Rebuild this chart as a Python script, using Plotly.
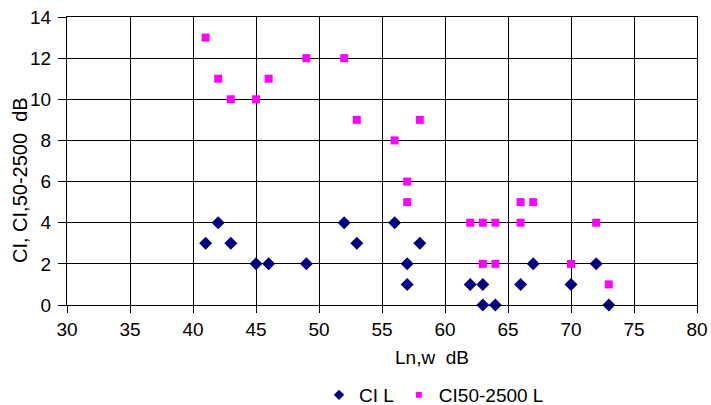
import plotly.graph_objects as go

# Data
ci_x = [41, 42, 43, 45, 46, 49, 52, 53, 56, 57, 57, 58, 62, 63, 63, 64, 66, 67, 70, 72, 73]
ci_l = [3, 4, 3, 2, 2, 2, 4, 3, 4, 2, 1, 3, 1, 1, 0, 0, 1, 2, 1, 2, 0]
ci50_x = [41, 42, 43, 45, 46, 49, 52, 53, 56, 57, 57, 58, 62, 63, 63, 64, 64, 66, 66, 67, 70, 72, 73]
ci50_2500_l = [13, 11, 10, 10, 11, 12, 12, 9, 8, 6, 5, 9, 4, 4, 2, 4, 2, 5, 4, 5, 2, 4, 1]

x_ticks = [30, 35, 40, 45, 50, 55, 60, 65, 70, 75, 80]
y_ticks = [0, 2, 4, 6, 8, 10, 12, 14]

FONT = "Liberation Sans, Arial, sans-serif"
BLUE = "#000080"
MAGENTA = "#FF00FF"

fig = go.Figure()
fig.add_trace(go.Scatter(
    x=ci_x, y=ci_l, mode="markers", name="CI L", showlegend=False,
    marker=dict(symbol="diamond", size=10, color=BLUE, line=dict(width=0)),
    cliponaxis=False,
))
fig.add_trace(go.Scatter(
    x=ci50_x, y=ci50_2500_l, mode="markers", name="CI50-2500 L", showlegend=False,
    marker=dict(symbol="square", size=8, color=MAGENTA, line=dict(width=0)),
    cliponaxis=False,
))
# legend entries (smaller keys as in the reference)
fig.add_trace(go.Scatter(
    x=[None], y=[None], mode="markers", name="CI L",
    marker=dict(symbol="diamond", size=8, color=BLUE, line=dict(width=0)),
))
fig.add_trace(go.Scatter(
    x=[None], y=[None], mode="markers", name="CI50-2500 L",
    marker=dict(symbol="square", size=6, color=MAGENTA, line=dict(width=0)),
))

axis_common = dict(
    showgrid=True, gridcolor="black", gridwidth=1,
    showline=True, linecolor="black", linewidth=1, mirror=True,
    ticks="outside", tickcolor="black", tickwidth=1,
    zeroline=False,
    tickfont=dict(family=FONT, size=19, color="black"),
)

fig.update_xaxes(range=[30, 80], tickvals=x_ticks, ticktext=[str(v) for v in x_ticks],
                 ticklen=7, **axis_common)
fig.update_yaxes(range=[0, 14], tickvals=y_ticks, ticktext=[str(v) for v in y_ticks],
                 ticklen=8, ticklabelstandoff=3, **axis_common)

fig.add_annotation(
    text="Ln,w  dB", xref="paper", yref="paper", x=0.579, y=-0.184,
    xanchor="center", yanchor="middle", showarrow=False,
    font=dict(family=FONT, size=19, color="black"),
)
fig.add_annotation(
    text="CI, CI,50-2500  dB", xref="paper", yref="paper", x=-0.0746, y=0.434,
    xanchor="center", yanchor="middle", showarrow=False, textangle=-90,
    font=dict(family=FONT, size=20, color="black"),
)

fig.update_layout(
    width=711, height=405,
    margin=dict(l=67, r=14, t=17, b=100, autoexpand=False),
    paper_bgcolor="white", plot_bgcolor="white",
    showlegend=True,
    legend=dict(
        orientation="h", x=0.40, y=-0.3125, xanchor="left", yanchor="middle",
        font=dict(family=FONT, size=19, color="black"),
        bgcolor="rgba(0,0,0,0)", itemwidth=30, tracegroupgap=0,
    ),
    font=dict(family=FONT, color="black"),
)

fig.write_html("out.html")
